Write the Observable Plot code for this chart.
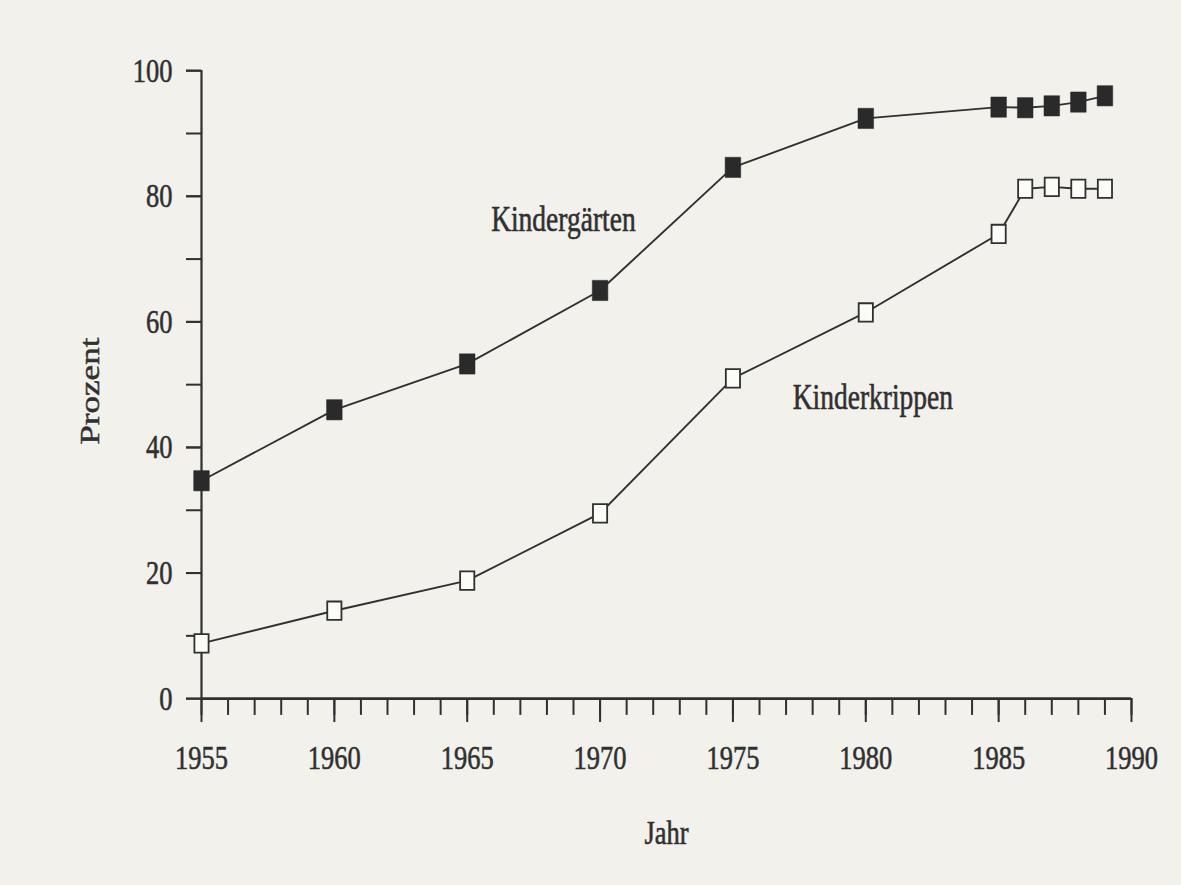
<!DOCTYPE html>
<html>
<head>
<meta charset="utf-8">
<script src="https://cdn.jsdelivr.net/npm/d3@7"></script>
<script src="https://cdn.jsdelivr.net/npm/@observablehq/plot@0.6"></script>
<style>
  html, body { margin: 0; padding: 0; background: #f2f1ec; }
  #chart svg { display: block; }
  #chart svg line, #chart svg path, #chart svg rect { vector-effect: non-scaling-stroke; }
  #chart svg text { stroke: #303030; stroke-width: 0.45px; }
</style>
</head>
<body>
<div id="chart"></div>
<script>
// Betreuungsquote (Prozent) nach Jahr
const years = [1955, 1960, 1965, 1970, 1975, 1980, 1985, 1986, 1987, 1988, 1989];
const kindergaerten = [34.7, 46.0, 53.3, 65.0, 84.6, 92.4, 94.2, 94.1, 94.4, 95.0, 96.0];
const kinderkrippen = [8.8, 14.0, 18.8, 29.5, 51.0, 61.5, 74.0, 81.2, 81.5, 81.2, 81.2];
const seriesNames = ["Kindergärten", "Kinderkrippen"];

const xMajorTicks = [1955, 1960, 1965, 1970, 1975, 1980, 1985, 1990];
const xMinorTicks = [1955, 1956, 1957, 1958, 1959, 1960, 1961, 1962, 1963, 1964, 1965,
  1966, 1967, 1968, 1969, 1970, 1971, 1972, 1973, 1974, 1975, 1976, 1977, 1978, 1979,
  1980, 1981, 1982, 1983, 1984, 1985, 1986, 1987, 1988, 1989, 1990];
const yMajorTicks = [0, 20, 40, 60, 80, 100];
const yMinorTicks = [0, 10, 20, 30, 40, 50, 60, 70, 80, 90, 100];
const xTitle = "Jahr";
const yTitle = "Prozent";

const rowsGarten = years.map((year, i) => ({year, value: kindergaerten[i]}));
const rowsKrippen = years.map((year, i) => ({year, value: kinderkrippen[i]}));

// The printed figure is taller than wide in its proportions; draw in a
// compact coordinate space and stretch it vertically to the page height.
const W = 1181, H = 681, PAGE_H = 885;
const ink = "#303030";
const font = "'Liberation Serif', 'Times New Roman', serif";

const chart = Plot.plot({
  width: W,
  height: H,
  marginLeft: 201,
  marginRight: 50,
  marginTop: 53.9,
  marginBottom: 143.9,
  style: {background: "transparent", fontFamily: font, fontSize: "26.5px", color: ink},
  x: {domain: [1955, 1990], label: null},
  y: {domain: [0, 100], label: null},
  marks: [
    // y axis: ticks every 10, labels every 20
    Plot.axisY({ticks: yMinorTicks, tickSize: 15, tickFormat: () => "", strokeWidth: 2, stroke: ink}),
    Plot.axisY({ticks: yMajorTicks, tickSize: 15, tickPadding: 14, tickFormat: d => String(d),
      strokeWidth: 2, stroke: ink, fill: ink}),
    // x axis: yearly ticks, longer ones with labels every five years
    Plot.axisX({ticks: xMinorTicks, tickSize: 13, tickFormat: () => "", strokeWidth: 2, stroke: ink}),
    Plot.axisX({ticks: xMajorTicks, tickSize: 18.5, tickPadding: 16.5, tickFormat: d => String(d),
      strokeWidth: 2, stroke: ink, fill: ink}),
    Plot.ruleX([1955], {y1: 0, y2: 100, stroke: ink, strokeWidth: 2.2}),
    Plot.ruleY([0], {x1: 1955, x2: 1990, stroke: ink, strokeWidth: 2.6}),
    // axis titles
    Plot.text([xTitle], {frameAnchor: "bottom", dy: 111.5, lineAnchor: "bottom", textAnchor: "middle", fill: ink, fontSize: 26.5}),
    Plot.text([yTitle], {frameAnchor: "left", dx: -111, dy: 5, rotate: -90, textAnchor: "middle", lineAnchor: "middle", fill: ink, fontSize: 27}),
    // series
    Plot.line(rowsGarten, {x: "year", y: "value", stroke: ink, strokeWidth: 1.9}),
    Plot.line(rowsKrippen, {x: "year", y: "value", stroke: ink, strokeWidth: 1.9}),
    Plot.dot(rowsGarten, {x: "year", y: "value", symbol: "square", r: 8.8, fill: "#2a2a2a", stroke: "#2a2a2a", strokeWidth: 0.5}),
    Plot.dot(rowsKrippen, {x: "year", y: "value", symbol: "square", r: 8.0, fill: "#fbfbf8", stroke: ink, strokeWidth: 1.8}),
    // series labels
    Plot.text([seriesNames[0]], {x: 1965.9, y: 74.5, textAnchor: "start", lineAnchor: "bottom", fill: ink, fontSize: 27.5}),
    Plot.text([seriesNames[1]], {x: 1977.25, y: 46.2, textAnchor: "start", lineAnchor: "bottom", fill: ink, fontSize: 27.5})
  ]
});

chart.setAttribute("viewBox", `0 0 ${W} ${H}`);
chart.setAttribute("width", W);
chart.setAttribute("height", PAGE_H);
chart.setAttribute("preserveAspectRatio", "none");
chart.style.width = W + "px";
chart.style.height = PAGE_H + "px";
chart.style.maxWidth = "none";
document.getElementById("chart").appendChild(chart);
</script>
</body>
</html>
